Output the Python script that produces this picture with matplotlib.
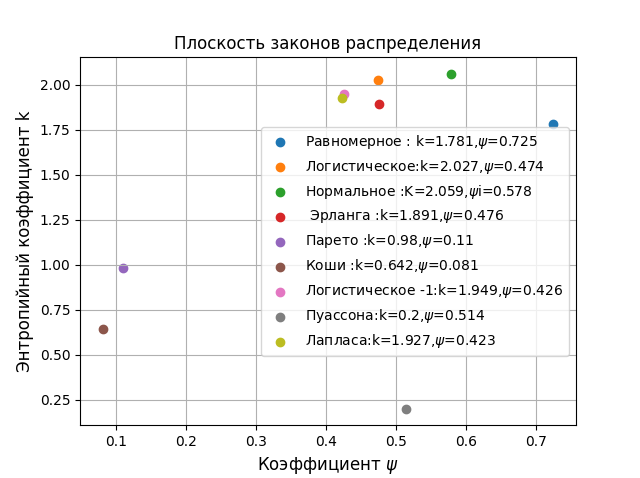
import matplotlib.pyplot as plt

names = ["Равномерное : k=1.781,$\\psi$=0.725",
         "Логистическое:k=2.027,$\\psi$=0.474",
         "Нормальное :K=2.059,$\\psi$i=0.578",
         " Эрланга :k=1.891,$\\psi$=0.476",
         "Парето :k=0.98,$\\psi$=0.11",
         "Коши :k=0.642,$\\psi$=0.081",
         "Логистическое -1:k=1.949,$\\psi$=0.426",
         "Пуассона:k=0.2,$\\psi$=0.514",
         "Лапласа:k=1.927,$\\psi$=0.423"]
psi = [0.725, 0.474, 0.578, 0.476, 0.11, 0.081, 0.426, 0.514, 0.423]
k = [1.781, 2.027, 2.059, 1.891, 0.98, 0.642, 1.949, 0.2, 1.927]

plt.figure(figsize=(6.4, 4.78))
for name, x, y in zip(names, psi, k):
    plt.scatter(x, y, label=name)
plt.grid(True)
plt.title("Плоскость законов распределения")
plt.xlabel("Коэффициент $\\psi$", fontsize=12)
plt.ylabel("Энтропийный коэффициент k", fontsize=12)
plt.legend(loc="center right")
plt.savefig("out.png", dpi=100)
